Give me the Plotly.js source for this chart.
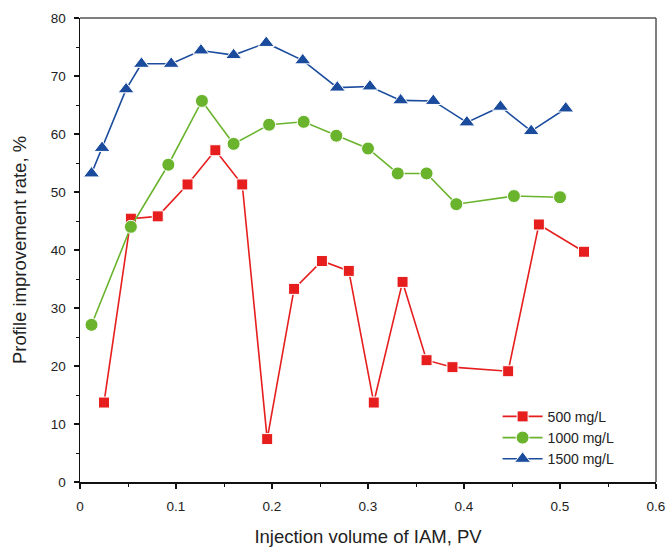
<!DOCTYPE html>
<html>
<head>
<meta charset="utf-8">
<script src="https://cdn.plot.ly/plotly-3.0.1.min.js"></script>
<style>html,body{margin:0;padding:0;background:#fff;}#chart{width:667px;height:549px;}</style>
</head>
<body>
<div id="chart"></div>
<script>
// Data
const x500 = [0.025, 0.053, 0.081, 0.112, 0.141, 0.169, 0.195, 0.223, 0.252, 0.280, 0.306, 0.336, 0.361, 0.388, 0.446, 0.478, 0.525];
const y500 = [13.7, 45.4, 45.8, 51.3, 57.2, 51.3, 7.4, 33.3, 38.1, 36.4, 13.7, 34.5, 21.0, 19.8, 19.1, 44.4, 39.7];

const x1000 = [0.012, 0.053, 0.092, 0.127, 0.160, 0.197, 0.233, 0.267, 0.300, 0.331, 0.361, 0.392, 0.452, 0.500];
const y1000 = [27.1, 44.0, 54.7, 65.7, 58.3, 61.6, 62.1, 59.7, 57.5, 53.2, 53.2, 47.9, 49.3, 49.1];

const x1500 = [0.012, 0.023, 0.048, 0.064, 0.095, 0.126, 0.160, 0.194, 0.232, 0.268, 0.302, 0.334, 0.368, 0.403, 0.438, 0.470, 0.506];
const y1500 = [53.2, 57.6, 67.7, 72.1, 72.1, 74.4, 73.6, 75.7, 72.7, 68.0, 68.2, 65.8, 65.7, 62.0, 64.7, 60.5, 64.4];

const seriesNames = ['500 mg/L', '1000 mg/L', '1500 mg/L'];
const xTickVals = [0, 0.1, 0.2, 0.3, 0.4, 0.5, 0.6];
const xTickText = ['0', '0.1', '0.2', '0.3', '0.4', '0.5', '0.6'];
const yTickVals = [0, 10, 20, 30, 40, 50, 60, 70, 80];

const FONT = '"Liberation Sans", Arial, sans-serif';

const traces = [
  {x: x500, y: y500, name: seriesNames[0], mode: 'lines+markers', type: 'scatter',
   line: {color: '#e61e1e', width: 1.6},
   marker: {symbol: 'square', size: 11, color: '#e61e1e', line: {color: '#ffffff', width: 1}}},
  {x: x1000, y: y1000, name: seriesNames[1], mode: 'lines+markers', type: 'scatter',
   line: {color: '#6ab42d', width: 1.6},
   marker: {symbol: 'circle', size: 13, color: '#6ab42d', line: {color: '#ffffff', width: 1}}},
  {x: x1500, y: y1500, name: seriesNames[2], mode: 'lines+markers', type: 'scatter',
   line: {color: '#1a4b9d', width: 1.6},
   marker: {symbol: 'triangle-up', size: 14, color: '#1a4b9d', line: {color: '#ffffff', width: 1}}}
];

const layout = {
  width: 667, height: 549,
  margin: {l: 79.5, r: 11, t: 18, b: 67},
  paper_bgcolor: '#ffffff', plot_bgcolor: '#ffffff',
  font: {family: FONT, size: 13, color: '#222'},
  showlegend: true,
  legend: {x: 0.725, y: 0.175, xanchor: 'left', yanchor: 'top',
           bgcolor: 'rgba(0,0,0,0)', font: {family: FONT, size: 14, color: '#222'},
           tracegroupgap: 0, itemwidth: 40},
  xaxis: {
    range: [0, 0.6], tickvals: xTickVals, ticktext: xTickText,
    showgrid: false, zeroline: false, showline: true, linecolor: '#111', linewidth: 1.5,
    ticks: 'outside', ticklen: 5, tickwidth: 1.2, tickcolor: '#111', ticklabelstandoff: 6,
    minor: {dtick: 0.05, ticks: 'outside', ticklen: 3, tickwidth: 1, tickcolor: '#111', showgrid: false},
    tickfont: {family: FONT, size: 13.5, color: '#222'},
    title: {text: 'Injection volume of IAM, PV', font: {family: FONT, size: 18.5, color: '#222'}, standoff: 17}
  },
  yaxis: {
    range: [0, 80], tickvals: yTickVals,
    showgrid: false, zeroline: false, showline: true, linecolor: '#111', linewidth: 1.5,
    ticks: 'outside', ticklen: 5, tickwidth: 1.2, tickcolor: '#111', ticklabelstandoff: 5,
    minor: {dtick: 5, ticks: 'outside', ticklen: 3, tickwidth: 1, tickcolor: '#111', showgrid: false},
    tickfont: {family: FONT, size: 13.5, color: '#222'},
    title: {text: 'Profile improvement rate, %', font: {family: FONT, size: 18.5, color: '#222'}, standoff: 19}
  },
  shapes: [
    {type: 'line', xref: 'paper', yref: 'paper', x0: 0, x1: 1, y0: 1, y1: 1, line: {color: '#555', width: 1.5}},
    {type: 'line', xref: 'paper', yref: 'paper', x0: 1, x1: 1, y0: 0, y1: 1, line: {color: '#555', width: 1.5}}
  ]
};

Plotly.newPlot('chart', traces, layout, {displayModeBar: false, staticPlot: true});
</script>
</body>
</html>
